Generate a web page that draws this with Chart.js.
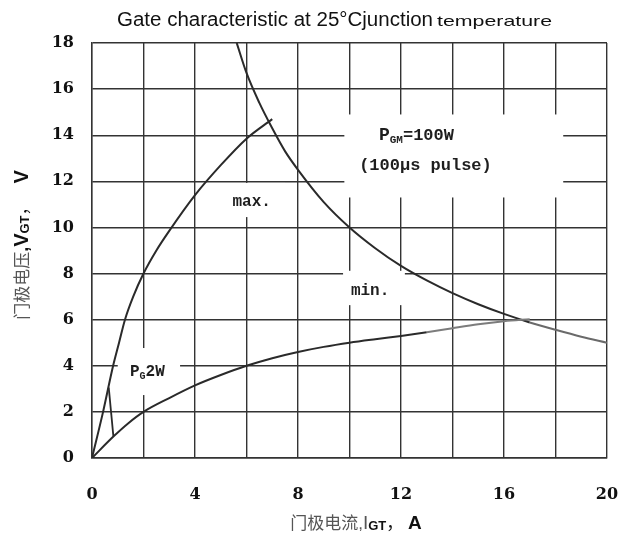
<!DOCTYPE html>
<html>
<head>
<meta charset="utf-8">
<script src="https://cdn.jsdelivr.net/npm/chart.js@4.4.0/dist/chart.umd.min.js"></script>
<style>
  html, body { margin: 0; padding: 0; background: #fff; }
</style>
</head>
<body>
<canvas id="gateChart" width="621" height="537"></canvas>
<script>
// Valores (I em A, V em V)
const maxCurveI = [0, 0.43, 0.82, 1.05, 1.28, 1.6, 2, 2.5, 3, 4, 5, 6, 7];
const maxCurveV = [0, 2, 4, 5, 6, 7, 8, 9, 9.85, 11.4, 12.7, 13.85, 14.7];

const minCurveI = [0, 0.85, 1.4, 2, 3, 4, 5, 6, 7, 8, 9, 10, 11, 12, 13, 14, 15, 16, 17];
const minCurveV = [0, 0.95, 1.5, 2, 2.6, 3.15, 3.6, 4, 4.33, 4.6, 4.82, 5, 5.15, 5.29, 5.45, 5.63, 5.8, 5.93, 6.02];

const pgmCurveI = [5.62, 6, 6.5, 7, 7.5, 8, 9, 10, 11, 12, 13, 14, 15, 16, 17, 18, 19, 20];
const pgmCurveV = [18, 16.7, 15.4, 14.3, 13.3, 12.5, 11.1, 10, 9.1, 8.33, 7.7, 7.15, 6.67, 6.25, 5.88, 5.56, 5.26, 5];

const pgLineI = [0.65, 0.83];
const pgLineV = [3.05, 0.95];

const xTicks = [0, 4, 8, 12, 16, 20];
const yTicks = [0, 2, 4, 6, 8, 10, 12, 14, 16, 18];

function toPoints(xs, ys) {
    return xs.map((x, i) => ({ x: x, y: ys[i] }));
}

const INK = '#2a2a2a';

// Caixas brancas que interrompem a grade atrás dos rótulos (coordenadas de dados)
const labelBoxes = [
    { x0: 9.8, x1: 18.3, y0: 11.3, y1: 14.9 },
    { x0: 4.5, x1: 7.5, y0: 10.45, y1: 11.93 },
    { x0: 9.75, x1: 12.15, y0: 6.63, y1: 8.12 },
    { x0: 1.0, x1: 3.42, y0: 2.73, y1: 4.77 }
];

const MONO = '"Liberation Mono", monospace';
const annotations = [
    { x: 6.2, y: 10.93, runs: [{ t: 'max.', f: 'bold 16px ' + MONO }] },
    { x: 10.8, y: 7.07, runs: [{ t: 'min.', f: 'bold 16px ' + MONO }] },
    { x: 12.6, y: 13.8, runs: [
        { t: 'P', f: 'bold 18px ' + MONO },
        { t: 'GM', f: 'bold 11px ' + MONO, dy: 3 },
        { t: '=100W', f: 'bold 17px ' + MONO }
    ] },
    { x: 12.95, y: 12.5, runs: [{ t: '(100μs pulse)', f: 'bold 17px ' + MONO }] },
    { x: 2.15, y: 3.57, runs: [
        { t: 'P', f: 'bold 16px ' + MONO },
        { t: 'G', f: 'bold 10px ' + MONO, dy: 3 },
        { t: '2W', f: 'bold 16px ' + MONO }
    ] }
];

function runsWidth(ctx, runs) {
    let w = 0;
    runs.forEach(r => { ctx.font = r.f; w += ctx.measureText(r.t).width; });
    return w;
}

function drawRuns(ctx, runs, cx, baseY, color) {
    let x = cx - runsWidth(ctx, runs) / 2;
    ctx.textAlign = 'left';
    ctx.textBaseline = 'alphabetic';
    runs.forEach(r => {
        ctx.font = r.f;
        ctx.fillStyle = r.c || color;
        ctx.fillText(r.t, x, baseY + (r.dy || 0));
        x += ctx.measureText(r.t).width;
    });
}

function drawFit(ctx, text, font, x, baseY, targetW) {
    ctx.font = font;
    const w = ctx.measureText(text).width;
    ctx.save();
    ctx.translate(x, baseY);
    ctx.scale(targetW / w, 1);
    ctx.textAlign = 'left';
    ctx.textBaseline = 'alphabetic';
    ctx.fillText(text, 0, 0);
    ctx.restore();
}

const decorPlugin = {
    id: 'decor',
    beforeDatasetsDraw(chart) {
        const ctx = chart.ctx;
        const xs = chart.scales.x, ys = chart.scales.y;
        ctx.save();
        ctx.fillStyle = '#fff';
        labelBoxes.forEach(b => {
            const px0 = xs.getPixelForValue(b.x0), px1 = xs.getPixelForValue(b.x1);
            const py0 = ys.getPixelForValue(b.y1), py1 = ys.getPixelForValue(b.y0);
            ctx.fillRect(px0, py0, px1 - px0, py1 - py0);
        });
        ctx.restore();
    },
    afterDatasetsDraw(chart) {
        const ctx = chart.ctx;
        const xs = chart.scales.x, ys = chart.scales.y;
        ctx.save();
        annotations.forEach(a => {
            drawRuns(ctx, a.runs, xs.getPixelForValue(a.x), ys.getPixelForValue(a.y), '#1e1e1e');
        });
        ctx.restore();
    },
    afterDraw(chart) {
        const ctx = chart.ctx;
        ctx.save();
        ctx.fillStyle = '#111';
        // Título
        drawFit(ctx, 'Gate characteristic at 25°Cjunction', '20px "Liberation Sans", Arial', 117, 26, 316);
        drawFit(ctx, 'temperature', '15px "Liberation Sans", Arial', 437, 26, 115);

        const CJK = '"Noto Sans CJK SC", sans-serif';
        const SANS = '"Liberation Sans", Arial';
        // Título do eixo Y (girado)
        ctx.translate(28, 245);
        ctx.rotate(-Math.PI / 2);
        drawRuns(ctx, [
            { t: '门极电压', f: '17px ' + CJK, c: '#555' },
            { t: ',', f: 'bold 18px ' + SANS },
            { t: 'V', f: 'bold 20px ' + SANS },
            { t: 'GT', f: 'bold 13px ' + SANS, dy: 1 },
            { t: '，', f: '17px ' + CJK },
            { t: '   ', f: 'bold 18px ' + SANS },
            { t: 'V', f: 'bold 20px ' + SANS }
        ], 0, 0, '#111');
        ctx.restore();

        ctx.save();
        // Título do eixo X
        drawRuns(ctx, [
            { t: '门极电流', f: '17px ' + CJK, c: '#555' },
            { t: ',', f: '17px ' + SANS, c: '#555' },
            { t: 'I', f: '19px ' + SANS, c: '#555' },
            { t: 'GT', f: 'bold 13px ' + SANS, dy: 1 },
            { t: '，', f: '17px ' + CJK },
            { t: ' ', f: 'bold 17px ' + SANS },
            { t: 'A', f: 'bold 19px ' + SANS }
        ], 356, 529, '#111');
        ctx.restore();
    }
};

const lineStyle = {
    showLine: true,
    pointRadius: 0,
    borderWidth: 2,
    borderColor: INK,
    fill: false,
    cubicInterpolationMode: 'monotone'
};

new Chart(document.getElementById('gateChart'), {
    type: 'scatter',
    data: {
        datasets: [
            Object.assign({ label: 'max.', data: toPoints(maxCurveI, maxCurveV) }, lineStyle),
            Object.assign({ label: 'min.', data: toPoints(minCurveI, minCurveV),
                segment: { borderColor: c => c.p0.parsed.x >= 13 ? '#7c7c7c' : INK } }, lineStyle),
            Object.assign({ label: 'PGM=100W', data: toPoints(pgmCurveI, pgmCurveV),
                segment: { borderColor: c => c.p0.parsed.x >= 17 ? '#6a6a6a' : INK } }, lineStyle),
            Object.assign({}, lineStyle, { label: 'PG2W', data: toPoints(pgLineI, pgLineV),
                cubicInterpolationMode: 'default', tension: 0, borderWidth: 1.8 })
        ]
    },
    options: {
        responsive: false,
        animation: false,
        events: [],
        layout: { padding: { left: 0, right: 14, top: 43, bottom: 0 } },
        plugins: {
            legend: { display: false },
            tooltip: { enabled: false }
        },
        scales: {
            x: {
                type: 'linear',
                min: 0, max: 20,
                afterFit: s => {
                    s.height = 79;
                    s.paddingLeft = 0;
                    s.paddingRight = 0;
                },
                afterBuildTicks: s => {
                    s.ticks = [];
                    for (let v = 0; v <= 20; v += 2) s.ticks.push({ value: v });
                },
                ticks: {
                    autoSkip: false,
                    maxRotation: 0,
                    padding: 27,
                    color: '#111',
                    font: { family: '"DejaVu Serif", serif', size: 16, weight: 'bold' },
                    callback: v => (xTicks.includes(v) ? String(v) : '')
                },
                grid: { color: '#333', lineWidth: 1.4, drawTicks: false },
                border: { color: '#333', width: 1.4 }
            },
            y: {
                type: 'linear',
                min: 0, max: 18,
                afterFit: s => {
                    s.width = 92;
                    s.paddingTop = 0;
                    s.paddingBottom = 0;
                },
                afterBuildTicks: s => {
                    s.ticks = yTicks.map(v => ({ value: v }));
                },
                ticks: {
                    autoSkip: false,
                    padding: 18,
                    color: '#111',
                    font: { family: '"DejaVu Serif", serif', size: 16, weight: 'bold' }
                },
                grid: { color: '#333', lineWidth: 1.4, drawTicks: false },
                border: { color: '#333', width: 1.4 }
            }
        }
    },
    plugins: [decorPlugin]
});
</script>
</body>
</html>
